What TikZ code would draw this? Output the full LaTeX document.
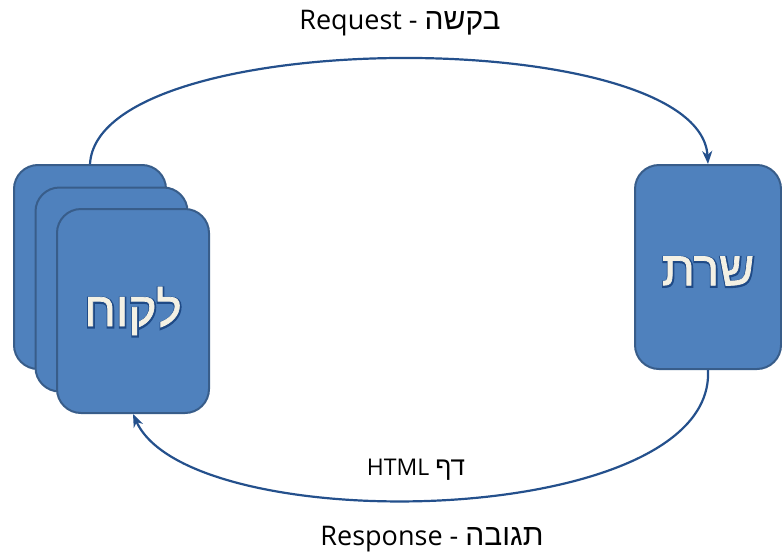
\documentclass[tikz,border=0pt]{standalone}
\usepackage{fontspec}
\setmainfont{Open Sans}
\newfontfamily\hebfont[Script=Hebrew]{Liberation Sans}
\newfontfamily\hebol[Script=Hebrew,FakeBold=7]{Liberation Sans}
\newfontfamily\hebfill[Script=Hebrew,FakeBold=1.5]{Liberation Sans}
\TeXXeTstate=1
\usetikzlibrary{arrows.meta}
\definecolor{boxfill}{HTML}{4F81BD}
\definecolor{boxline}{HTML}{385D8A}
\definecolor{arrowc}{HTML}{24508C}
\definecolor{txtc}{HTML}{F4F1E4}
\definecolor{olc}{HTML}{1F4A86}
\begin{document}
\begin{tikzpicture}[x=1pt,y=-1pt,
  card/.style={draw=boxline, line width=2pt, fill=boxfill, rounded corners=24pt,
    minimum width=152pt, minimum height=204pt, inner sep=0pt},
  flow/.style={draw=arrowc, line width=2.2pt, -{Stealth[length=13pt,width=10pt,inset=4pt]}},
  bigol/.style={font=\hebol\fontsize{48}{54}\selectfont, text=olc, inner sep=0pt},
  bigheb/.style={font=\hebfill\fontsize{48}{54}\selectfont, text=txtc, inner sep=0pt},
  lbl/.style={font=\fontsize{27}{31}\selectfont, text=black, inner sep=0pt},
  sublbl/.style={font=\fontsize{23}{27}\selectfont, text=black, inner sep=0pt}]
\useasboundingbox (0,0) rectangle (782,557);
\node[card] (c1) at (90,267) {};
\node[card] (c2) at (111.5,289.5) {};
\node[card] (c3) at (133,311) {};
\node[card, minimum width=146pt] (srv) at (708,267) {};
\node[bigol] (cshadow) at (133.5,312) {\beginR לקוח\endR};
\node[bigol] (sshadow) at (708.5,272) {\beginR שרת\endR};
\node[bigheb] (ctext) at (133,311) {\beginR לקוח\endR};
\node[bigheb] (stext) at (708,271) {\beginR שרת\endR};
\draw[flow] (c1.north) .. controls (98,24) and (700,24) .. (srv.north);
\draw[flow] (srv.south) .. controls (716,530) and (190,540) .. (c3.south);
\node[lbl] (req) at (400,23) {Request - {\hebfont\fontsize{30}{34}\selectfont\beginR בקשה\endR}};
\node[sublbl] (html) at (416,470) {HTML {\hebfont\fontsize{26}{30}\selectfont\beginR דף\endR}};
\node[lbl] (resp) at (432,539) {Response - {\hebfont\fontsize{30}{34}\selectfont\beginR תגובה\endR}};
\end{tikzpicture}
\end{document}
